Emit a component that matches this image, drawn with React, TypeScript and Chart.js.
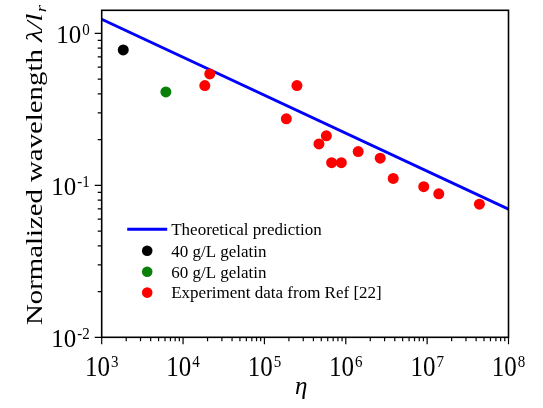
import React, { useEffect, useRef } from "react";
import { Chart, registerables } from "chart.js";

Chart.register(...registerables);

// ---- data ----
const theoryEta = [1e3, 1e8];
const theoryLambda = [1.24, 0.0697];

const gel40Eta = [1840];
const gel40Lambda = [0.779];

const gel60Eta = [6150];
const gel60Lambda = [0.412];

const refEta = [18500, 21300, 186000, 251000, 468000, 577000, 670000, 881000, 1.42e6, 2.65e6, 3.83e6, 9.08e6, 1.39e7, 4.39e7];
const refLambda = [0.454, 0.541, 0.274, 0.454, 0.1875, 0.212, 0.141, 0.141, 0.167, 0.151, 0.111, 0.098, 0.088, 0.0752];

const seriesLabels = ["Theoretical prediction", "40 g/L gelatin", "60 g/L gelatin", "Experiment data from Ref [22]"];
const seriesColors = ["#0000ff", "#000000", "#0a800a", "#ff0000"];
const xTickExps = [3, 4, 5, 6, 7, 8];
const yTickExps = [0, -1, -2];
const xTitle = "η";
const yTitleMain = "Normalized wavelength ";
const yTitleSym = "λ/l";
const yTitleSub = "r";

const SERIF = '"Liberation Serif", "Times New Roman", serif';

function toPts(xs: number[], ys: number[]) {
  return xs.map((x, i) => ({ x, y: ys[i] }));
}

function drawPow(ctx: CanvasRenderingContext2D, exp: string, x: number, y: number, align: "center" | "right", sy: number) {
  ctx.save();
  ctx.font = `25px ${SERIF}`;
  const wb = ctx.measureText("10").width;
  ctx.font = `15px ${SERIF}`;
  const we = ctx.measureText(exp).width;
  const total = wb + we + 1;
  const x0 = align === "center" ? x - total / 2 : x - total;
  ctx.translate(0, y);
  ctx.scale(1, sy);
  ctx.fillStyle = "#000";
  ctx.textAlign = "left";
  ctx.textBaseline = "alphabetic";
  ctx.font = `25px ${SERIF}`;
  ctx.fillText("10", x0, 0);
  ctx.font = `15px ${SERIF}`;
  ctx.fillText(exp, x0 + wb + 1, -8);
  ctx.restore();
}

const overlay = {
  id: "overlay",
  afterDraw(chart: any) {
    const ctx: CanvasRenderingContext2D = chart.ctx;
    const { left, right, top, bottom } = chart.chartArea;
    const xs = chart.scales.x;
    const ys = chart.scales.y;
    ctx.save();
    // frame
    ctx.strokeStyle = "#000";
    ctx.lineWidth = 1.6;
    ctx.strokeRect(left, top, right - left, bottom - top);
    // x ticks
    ctx.lineWidth = 1.2;
    ctx.beginPath();
    for (const e of xTickExps) {
      for (let m = 1; m <= 9; m++) {
        const v = m * Math.pow(10, e);
        if (v > xs.max * 1.0001) break;
        const px = xs.getPixelForValue(v);
        const len = m === 1 ? 7 : 4;
        ctx.moveTo(px, bottom);
        ctx.lineTo(px, bottom + len);
      }
    }
    // y ticks
    for (const e of yTickExps) {
      for (let m = 1; m <= 9; m++) {
        const v = m * Math.pow(10, e);
        if (v > ys.max * 1.0001) break;
        const py = ys.getPixelForValue(v);
        const len = m === 1 ? 7 : 4;
        ctx.moveTo(left - len, py);
        ctx.lineTo(left, py);
      }
    }
    ctx.stroke();
    // tick labels
    for (const e of xTickExps) {
      const px = xs.getPixelForValue(Math.pow(10, e));
      drawPow(ctx, String(e), px, 376, "center", 1.15);
    }
    for (const e of yTickExps) {
      const py = ys.getPixelForValue(Math.pow(10, e));
      drawPow(ctx, String(e), left - 12, py + 10, "right", 1.05);
    }
    // x title
    ctx.fillStyle = "#000";
    ctx.font = `italic 25px ${SERIF}`;
    ctx.textAlign = "center";
    ctx.textBaseline = "alphabetic";
    ctx.fillText(xTitle, (left + right) / 2 - 4, 394);
    // y title
    ctx.save();
    ctx.translate(42, 325);
    ctx.rotate(-Math.PI / 2);
    ctx.font = `23px ${SERIF}`;
    const w1 = ctx.measureText(yTitleMain).width;
    ctx.font = `italic 23px ${SERIF}`;
    const w2 = ctx.measureText(yTitleSym).width;
    ctx.font = `italic 15px ${SERIF}`;
    const w3 = ctx.measureText(yTitleSub).width;
    const total = w1 + w2 + w3 + 1;
    const s = 320 / total;
    ctx.scale(s, 1);
    ctx.textAlign = "left";
    ctx.font = `23px ${SERIF}`;
    ctx.fillText(yTitleMain, 0, 0);
    ctx.font = `italic 23px ${SERIF}`;
    ctx.fillText(yTitleSym, w1, 0);
    ctx.font = `italic 15px ${SERIF}`;
    ctx.fillText(yTitleSub, w1 + w2 + 1, 4);
    ctx.restore();
    // legend
    const lx = left + 25.5;
    const rowBase = [235, 256.5, 277.5, 298.3];
    ctx.font = `17px ${SERIF}`;
    ctx.textAlign = "left";
    seriesLabels.forEach((lab, i) => {
      const by = rowBase[i];
      const cy = by - 5.7;
      if (i === 0) {
        ctx.strokeStyle = seriesColors[0];
        ctx.lineWidth = 3;
        ctx.beginPath();
        ctx.moveTo(lx, cy);
        ctx.lineTo(lx + 40, cy);
        ctx.stroke();
      } else {
        ctx.fillStyle = seriesColors[i];
        ctx.beginPath();
        ctx.arc(lx + 20, cy, 5.3, 0, Math.PI * 2);
        ctx.fill();
      }
      ctx.fillStyle = "#000";
      ctx.fillText(lab, lx + 44, by);
    });
    ctx.restore();
  },
};

export default function App() {
  const ref = useRef<HTMLCanvasElement>(null);
  useEffect(() => {
    if (!ref.current) return;
    const pointDs = (i: number, xs: number[], ys: number[]) => ({
      type: "scatter" as const,
      label: seriesLabels[i],
      data: toPts(xs, ys),
      backgroundColor: seriesColors[i],
      borderColor: seriesColors[i],
      borderWidth: 0,
      pointRadius: 5.5,
      showLine: false,
      order: 0,
    });
    const chart = new Chart(ref.current, {
      type: "scatter",
      data: {
        datasets: [
          {
            type: "line",
            label: seriesLabels[0],
            data: toPts(theoryEta, theoryLambda),
            borderColor: seriesColors[0],
            backgroundColor: seriesColors[0],
            borderWidth: 3,
            pointRadius: 0,
            showLine: true,
            order: 1,
          } as any,
          pointDs(1, gel40Eta, gel40Lambda),
          pointDs(2, gel60Eta, gel60Lambda),
          pointDs(3, refEta, refLambda),
        ],
      },
      options: {
        responsive: false,
        animation: false,
        layout: { padding: { left: 101.7, right: 34.5, top: 10.3, bottom: 70.7 } },
        plugins: { legend: { display: false }, tooltip: { enabled: false } },
        scales: {
          x: { type: "logarithmic", min: 1e3, max: 1e8, display: false },
          y: { type: "logarithmic", min: 0.01, max: 1.42, display: false },
        },
      },
      plugins: [overlay],
    });
    return () => chart.destroy();
  }, []);
  return (
    <div style={{ position: "absolute", left: 0, top: 0, width: 543, height: 408, background: "#fff" }}>
      <canvas ref={ref} width={543} height={408} />
    </div>
  );
}
